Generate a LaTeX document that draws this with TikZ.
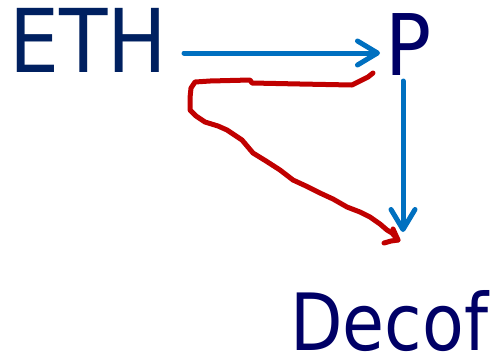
\documentclass[tikz,border=0pt]{standalone}
\usepackage{fontspec}
\setmainfont{DejaVu Sans Condensed}
\usetikzlibrary{arrows.meta}
\definecolor{ethnavy}{HTML}{002060}
\definecolor{pnavy}{HTML}{000066}
\definecolor{arrowblue}{HTML}{0070C0}
\definecolor{penred}{HTML}{C00000}
\tikzset{
  bigword/.style={inner sep=0pt, anchor=base west},
  bluearrow/.style={draw=arrowblue, line width=5bp, line cap=round,
    -{Straight Barb[length=20bp, width=24bp, line cap=round, line join=round]}},
  redpen/.style={draw=penred, line width=5bp, line cap=round, line join=round}
}
\begin{document}
\begin{tikzpicture}[x=1bp, y=-1bp]
\useasboundingbox (0,0) rectangle (500,358);
\node[bigword, text=ethnavy, font=\fontsize{88bp}{88bp}\selectfont] (eth) at (9,72) {ETH};
\node[bigword, text=pnavy, font=\fontsize{85bp}{85bp}\selectfont] (p) at (385,75) {P};
\node[bigword, text=pnavy, font=\fontsize{79bp}{79bp}\selectfont] (decof) at (290,350) {\smash{\scalebox{0.96}[1]{Decof}}};
\coordinate (h1) at (184,53);
\coordinate (h2) at (380,53);
\coordinate (v1) at (403,81);
\coordinate (v2) at (403,232);
\draw[bluearrow] (h1) -- (h2);
\draw[bluearrow] (v1) -- (v2);
\coordinate (r0) at (373,73);
\coordinate (rtip) at (398,240);
\draw[redpen] (r0) -- (368,77) -- (362,80) -- (352,85) -- (300,84) -- (252,83) -- (250,80)
  -- (210,81) -- (195,82) -- (191,88) -- (190,98) -- (190,110) -- (196,116) -- (205,122)
  -- (218,126) -- (227,130) -- (242,140) -- (253,153) -- (266,161) -- (280,170) -- (293,180)
  -- (306,186) -- (320,193) -- (333,199) -- (347,207) -- (360,212) -- (370,217) -- (380,224)
  -- (387,230) -- (392,233) -- (rtip) -- (391,241) -- (384,243);
\draw[redpen] (393,229) -- (rtip);
\end{tikzpicture}
\end{document}
